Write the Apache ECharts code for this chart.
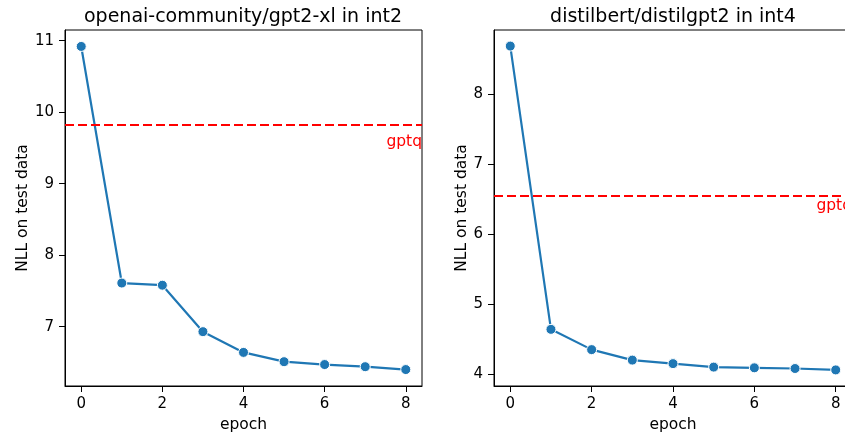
<!DOCTYPE html>
<html>
<head>
<meta charset="utf-8">
<script src="https://cdn.jsdelivr.net/npm/echarts@6/dist/echarts.min.js"></script>
<style>
html, body { margin: 0; padding: 0; background: #fff; }
#chart { width: 845px; height: 436px; }
</style>
</head>
<body>
<div id="chart"></div>
<script>
// data
const epochs = [0, 1, 2, 3, 4, 5, 6, 7, 8];
const gpt2xlNll = [10.92, 7.61, 7.58, 6.93, 6.64, 6.51, 6.47, 6.44, 6.40];
const distilNll = [8.69, 4.64, 4.35, 4.20, 4.15, 4.10, 4.09, 4.08, 4.06];
const gpt2xlGptq = 9.82;
const distilGptq = 6.555;
const xTicks = [0, 2, 4, 6, 8];
const leftYTicks = [7, 8, 9, 10, 11];
const rightYTicks = [4, 5, 6, 7, 8];

const chart = echarts.init(document.getElementById('chart'));
const font = 'DejaVu Sans';

function xAxis(gridIndex) {
  return {
    type: 'value', gridIndex: gridIndex, min: -0.4, max: 8.4,
    name: 'epoch', nameLocation: 'middle', nameGap: 31,
    nameTextStyle: { fontFamily: font, fontSize: 15.5, color: '#000' },
    axisLine: { show: true, onZero: false, lineStyle: { color: '#000', width: 1 } },
    axisTick: { show: true, length: 6, customValues: xTicks, lineStyle: { color: '#000' } },
    axisLabel: { customValues: xTicks, fontFamily: font, fontSize: 15, color: '#000', margin: 11 },
    splitLine: { show: false }
  };
}
function yAxis(gridIndex, min, max, ticks, gap) {
  return {
    type: 'value', gridIndex: gridIndex, min: min, max: max,
    name: 'NLL on test data', nameLocation: 'middle', nameGap: gap,
    nameTextStyle: { fontFamily: font, fontSize: 15.5, color: '#000' },
    axisLine: { show: true, onZero: false, lineStyle: { color: '#000', width: 1 } },
    axisTick: { show: true, length: 6, customValues: ticks, lineStyle: { color: '#000' } },
    axisLabel: { customValues: ticks, fontFamily: font, fontSize: 15, color: '#000', margin: 11 },
    splitLine: { show: false }
  };
}
function lineSeries(idx, values, gptq, labelDrop) {
  return {
    type: 'line', xAxisIndex: idx, yAxisIndex: idx,
    data: epochs.map((e, i) => [e, values[i]]),
    symbol: 'circle', symbolSize: 10,
    lineStyle: { color: '#1f77b4', width: 2.2 },
    itemStyle: { color: '#1f77b4', borderColor: '#fff', borderWidth: 1 },
    markLine: {
      silent: true, symbol: 'none',
      lineStyle: { color: '#ff0000', type: [9, 4], width: 2 },
      label: {
        show: true, position: 'insideEndBottom', formatter: 'gptq',
        color: '#ff0000', fontFamily: font, fontSize: 15.5, distance: [0, labelDrop]
      },
      data: [{ yAxis: gptq }]
    }
  };
}

const option = {
  animation: false,
  title: [
    { text: 'openai-community/gpt2-xl in int2', left: 238, top: 3, textAlign: 'center',
      textStyle: { fontFamily: font, fontSize: 19, fontWeight: 'normal', color: '#000' } },
    { text: 'distilbert/distilgpt2 in int4', left: 668, top: 3, textAlign: 'center',
      textStyle: { fontFamily: font, fontSize: 19, fontWeight: 'normal', color: '#000' } }
  ],
  grid: [
    { left: 65, top: 30, width: 357, height: 356, show: true, borderColor: '#000', borderWidth: 1,
      outerBoundsMode: 'none' },
    { left: 494, top: 30, width: 358, height: 356, show: true, borderColor: '#000', borderWidth: 1,
      outerBoundsMode: 'none' }
  ],
  xAxis: [xAxis(0), xAxis(1)],
  yAxis: [yAxis(0, 6.17, 11.15, leftYTicks, 34), yAxis(1, 3.83, 8.92, rightYTicks, 23)],
  series: [lineSeries(0, gpt2xlNll, gpt2xlGptq, 9), lineSeries(1, distilNll, distilGptq, 2)]
};
chart.setOption(option);
</script>
</body>
</html>
